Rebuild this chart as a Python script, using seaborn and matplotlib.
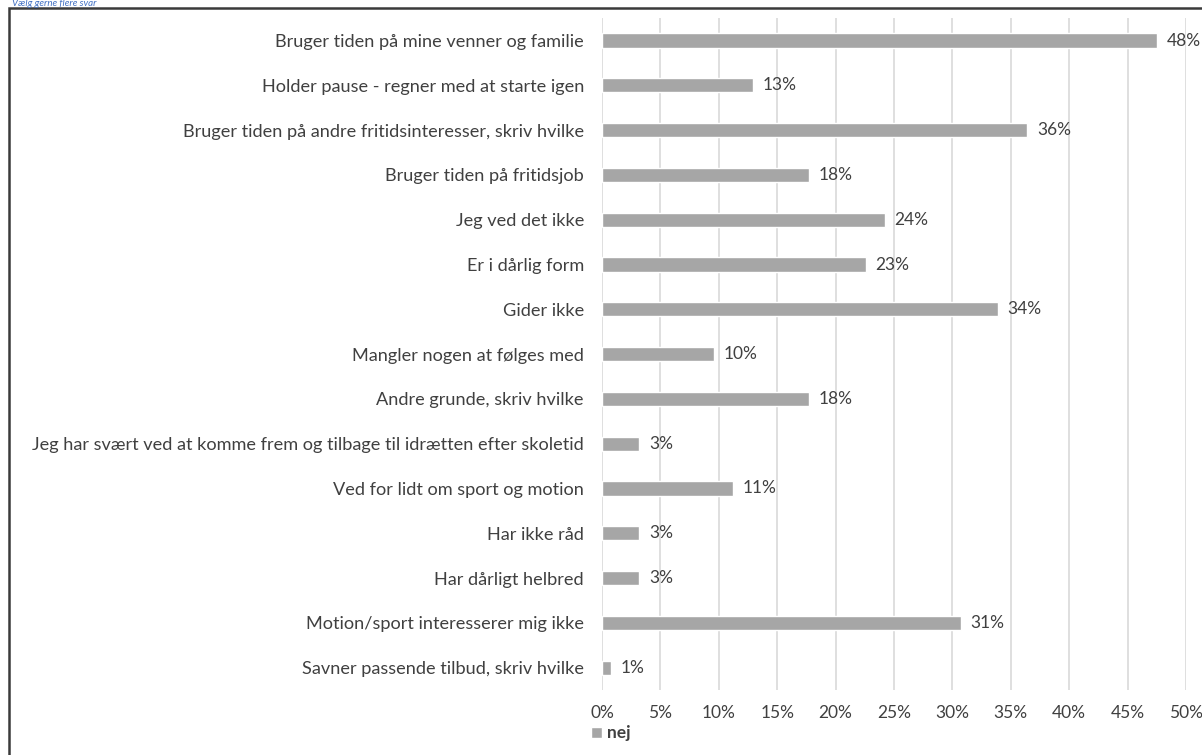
import matplotlib
matplotlib.use("Agg")
import matplotlib.pyplot as plt
import seaborn as sns
import pandas as pd
from matplotlib.patches import Rectangle
from matplotlib.ticker import PercentFormatter

categories = [
    "Bruger tiden på mine venner og familie",
    "Holder pause - regner med at starte igen",
    "Bruger tiden på andre fritidsinteresser, skriv hvilke",
    "Bruger tiden på fritidsjob",
    "Jeg ved det ikke",
    "Er i dårlig form",
    "Gider ikke",
    "Mangler nogen at følges med",
    "Andre grunde, skriv hvilke",
    "Jeg har svært ved at komme frem og tilbage til idrætten efter skoletid",
    "Ved for lidt om sport og motion",
    "Har ikke råd",
    "Har dårligt helbred",
    "Motion/sport interesserer mig ikke",
    "Savner passende tilbud, skriv hvilke",
]
# bar lengths (percent)
values = [47.5, 12.9, 36.4, 17.7, 24.2, 22.6, 33.9, 9.6, 17.7, 3.2, 11.2, 3.2, 3.2, 30.7, 0.8]
# data labels as printed
value_labels = ["48%", "13%", "36%", "18%", "24%", "23%", "34%", "10%", "18%",
                "3%", "11%", "3%", "3%", "31%", "1%"]
series_name = "nej"
x_ticks = [0, 5, 10, 15, 20, 25, 30, 35, 40, 45, 50]
title_text = "Vælg gerne flere svar"

sns.set_theme(style="white")
plt.rcParams["font.family"] = ["Lato", "DejaVu Sans"]

FS = 12.5
FS_Y = 13.1
TXT = "#404040"

df = pd.DataFrame({"cat": categories, "val": values, "serie": series_name})

fig = plt.figure(figsize=(12.02, 7.55), dpi=100)
ax = fig.add_axes([0.5008, 0.086, 0.4859, 0.890])

sns.barplot(data=df, x="val", y="cat", hue="serie", palette=["#a6a6a6"],
            width=0.32, ax=ax, orient="h", saturation=1)

ax.set_xlim(0, 50)
ax.set_ylim(14.5, -0.5)
ax.set_xticks(x_ticks)
ax.xaxis.set_major_formatter(PercentFormatter(decimals=0))
ax.grid(axis="x", color="#d9d9d9", linewidth=1.2)
ax.grid(axis="y", visible=False)
ax.set_axisbelow(True)
for s in ax.spines.values():
    s.set_visible(False)
ax.set_xlabel("")
ax.set_ylabel("")
ax.tick_params(axis="both", length=0, labelsize=FS, colors=TXT)
ax.tick_params(axis="y", pad=13, labelsize=FS_Y)
ax.tick_params(axis="x", pad=11)

for c in ax.containers:
    ax.bar_label(c, labels=value_labels, padding=7, fontsize=FS, color=TXT)

leg = ax.legend(loc="upper left", bbox_to_anchor=(-0.03, -0.042), frameon=False,
                handlelength=0.6, handleheight=0.6, handletextpad=0.3,
                borderaxespad=0, prop={"weight": "bold", "size": FS})
for t in leg.get_texts():
    t.set_color(TXT)

fig.patches.append(Rectangle((9 / 1202, -0.1), 1.2, 1 - 8 / 755 + 0.1,
                             transform=fig.transFigure, fill=False,
                             edgecolor="#3a3a3a", linewidth=1.8))
fig.text(12 / 1202, 1 - 6.5 / 755, title_text, color="#4472c4", style="italic",
         fontsize=7, va="baseline", ha="left")

fig.savefig("out.png", dpi=100)
